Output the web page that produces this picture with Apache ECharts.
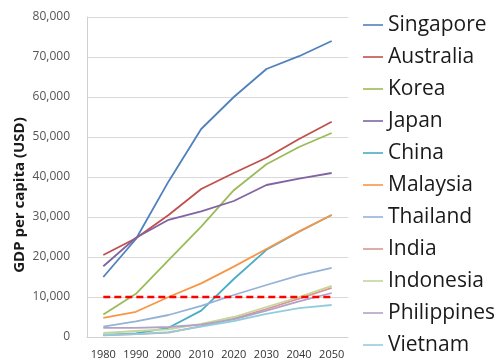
<!DOCTYPE html>
<html><head><meta charset="utf-8">
<script src="https://cdn.jsdelivr.net/npm/echarts@6/dist/echarts.min.js"></script>
<style>html,body{margin:0;padding:0;background:#fff}#c{width:500px;height:360px}</style>
</head><body><div id="c"></div>
<script>
const years = ['1980','1990','2000','2010','2020','2030','2040','2050'];
const countries = ['Singapore','Australia','Korea','Japan','China','Malaysia','Thailand','India','Indonesia','Philippines','Vietnam'];
const colors = ['#4F81BD','#C0504D','#9BBB59','#8064A2','#4BACC6','#F79646','#95B3D7','#D99694','#C3D69B','#B3A2C7','#93CDDD'];
const singapore   = [15000, 24500, 38900, 52000, 60000, 67000, 70200, 74000];
const australia   = [20500, 24700, 30500, 37000, 41000, 44800, 49500, 53800];
const korea       = [5600, 10800, 19200, 27600, 36700, 43200, 47500, 51000];
const japan       = [17700, 24800, 29300, 31400, 34000, 38000, 39600, 41000];
const china       = [500, 900, 2300, 6600, 14500, 21800, 26300, 30500];
const malaysia    = [4800, 6300, 10000, 13400, 17600, 22000, 26400, 30500];
const thailand    = [2600, 3900, 5500, 7800, 10500, 13000, 15400, 17300];
const india       = [400, 700, 1100, 2700, 4600, 7000, 9600, 12300];
const indonesia   = [1000, 1500, 1900, 3300, 5000, 7500, 10000, 12800];
const philippines = [2300, 2300, 2500, 3100, 4400, 6600, 8900, 11000];
const vietnam     = [500, 700, 1200, 2600, 4000, 5800, 7200, 8000];
const threshold   = [10000, 10000, 10000, 10000, 10000, 10000, 10000, 10000];
const seriesData = [singapore, australia, korea, japan, china, malaysia, thailand, india, indonesia, philippines, vietnam];
const yTicks = {min: 0, max: 80000, interval: 10000};
const yTitle = 'GDP per capita (USD)';

const chart = echarts.init(document.getElementById('c'), null, {renderer: 'canvas'});
const series = countries.map((n, i) => ({
  name: n, type: 'line', data: seriesData[i], symbol: 'none', smooth: false,
  lineStyle: {color: colors[i], width: 1.8}, itemStyle: {color: colors[i]},
  z: 2
}));
series.push({
  name: 'threshold', type: 'line', data: threshold, symbol: 'none',
  lineStyle: {color: '#FF0000', width: 2.5, type: [7, 4]}, z: 5
});
chart.setOption({
  animation: false,
  color: colors,
  grid: {left: 87, right: 152, top: 17, bottom: 23},
  legend: {
    data: countries.map(n => ({name: n, icon: 'rect'})),
    orient: 'vertical', left: 363, top: 14, padding: 0,
    itemWidth: 20, itemHeight: 1.6, itemGap: 10,
    textStyle: {fontFamily: 'Open Sans', fontSize: 21, color: '#1a1a1a', lineHeight: 22}
  },
  graphic: [{
    type: 'text', x: 20, y: 195, rotation: Math.PI / 2,
    style: {text: yTitle, font: 'bold 15px "Open Sans"', fill: '#1a1a1a',
      align: 'center', verticalAlign: 'middle'}
  }],
  xAxis: {
    type: 'category', data: years, boundaryGap: true,
    axisLine: {show: true, lineStyle: {color: '#d0d0d0'}},
    axisTick: {show: false},
    axisLabel: {fontFamily: 'Open Sans', fontSize: 11, color: '#333', margin: 12,
      interval: 0, hideOverlap: false}
  },
  yAxis: {
    type: 'value', min: yTicks.min, max: yTicks.max, interval: yTicks.interval,
    axisLine: {show: true, lineStyle: {color: '#d0d0d0'}},
    axisTick: {show: false},
    splitLine: {lineStyle: {color: '#d9d9d9'}},
    axisLabel: {fontFamily: 'Open Sans', fontSize: 12, color: '#555', margin: 17,
      formatter: v => v.toLocaleString('en-US')}
  },
  series: series
});
</script></body></html>
